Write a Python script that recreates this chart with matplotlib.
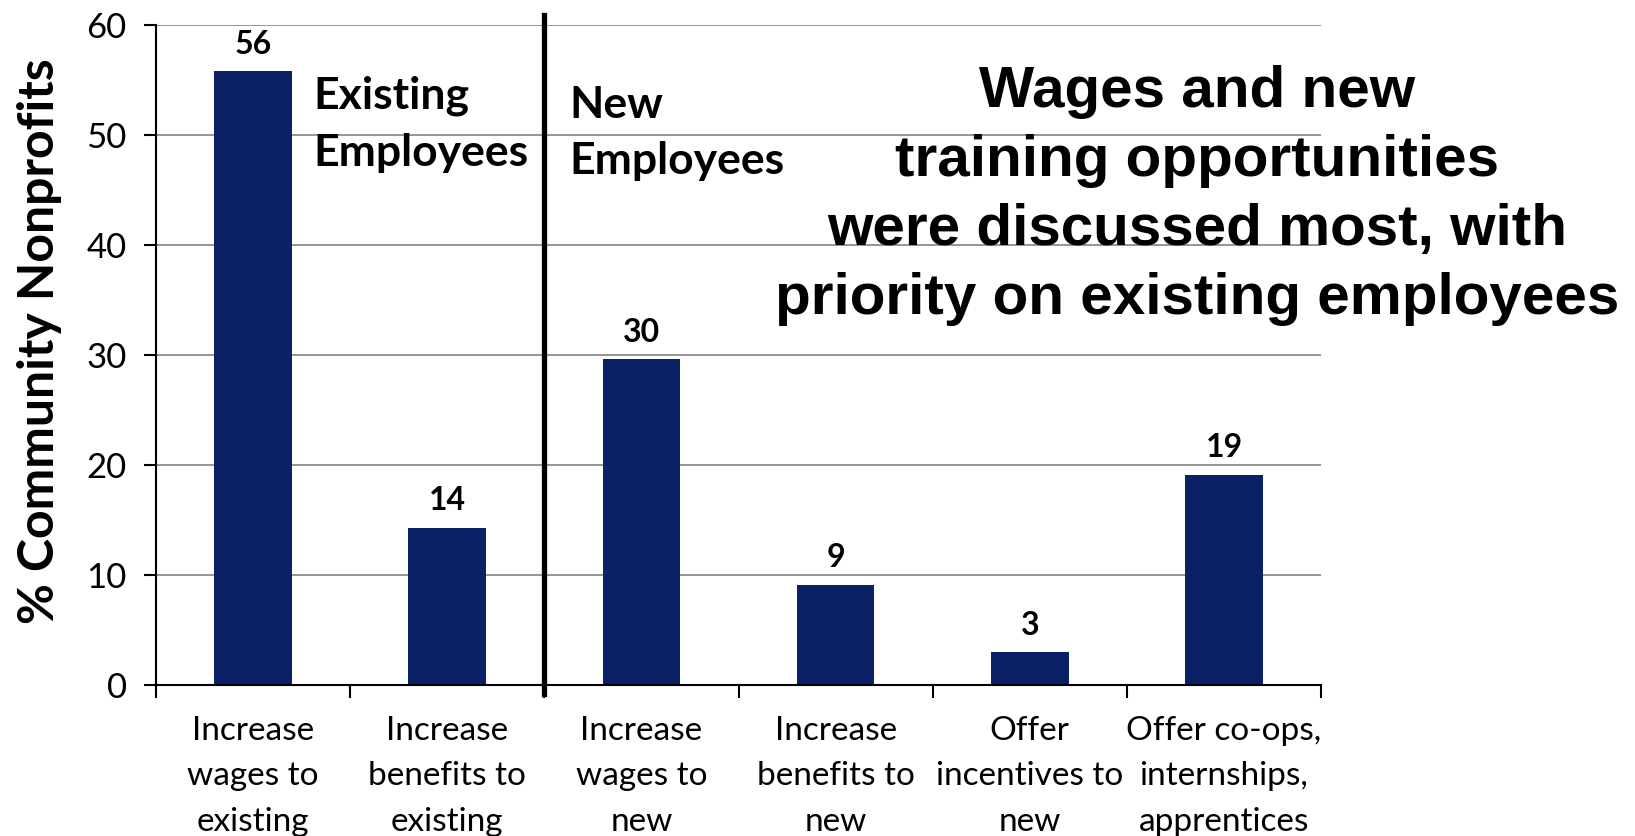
"""Bar chart: workforce strategies discussed by community nonprofits."""

import matplotlib

matplotlib.use("Agg")
import matplotlib.pyplot as plt  # noqa: E402
import numpy as np  # noqa: E402

categories = [
    "Increase\nwages to\nexisting",
    "Increase\nbenefits to\nexisting",
    "Increase\nwages to\nnew",
    "Increase\nbenefits to\nnew",
    "Offer\nincentives to\nnew",
    "Offer co-ops,\ninternships,\napprentices",
]
values = [55.8, 14.3, 29.6, 9.1, 3.0, 19.1]
value_labels = ["56", "14", "30", "9", "3", "19"]
y_ticks = [0, 10, 20, 30, 40, 50, 60]

BAR_COLOR = "#0b2166"
FONT = ["Lato", "DejaVu Sans"]
TITLE_FONT = ["Liberation Sans", "DejaVu Sans"]

plt.rcParams["font.family"] = FONT

fig = plt.figure(figsize=(16.35, 8.36), dpi=100)
ax = fig.add_axes([0.0954, 0.1806, 0.7126, 0.7894])

x = np.arange(len(categories))
bars = ax.bar(x, values, width=0.40, color=BAR_COLOR, zorder=3)
for bar, lab in zip(bars, value_labels):
    ax.annotate(lab, (bar.get_x() + bar.get_width() / 2, bar.get_height()),
                xytext=(0, 9), textcoords="offset points",
                ha="center", va="bottom", fontsize=23, fontweight="bold")

ax.set_xlim(-0.5, len(categories) - 0.5)
ax.set_ylim(0, 60)
ax.set_yticks(y_ticks)
ax.tick_params(axis="y", labelsize=25, length=9, width=1.5, pad=12)
ax.grid(True, axis="y", color="#8c8c8c", linewidth=1.3, zorder=0)

# category boundaries carry the ticks, centres carry the labels
ax.set_xticks(np.arange(-0.5, len(categories), 1.0))
ax.set_xticklabels([])
ax.set_xticks(x, minor=True)
ax.set_xticklabels(categories, minor=True, fontsize=24, linespacing=1.65)
ax.tick_params(axis="x", which="major", direction="out", length=9, width=1.5)
ax.tick_params(axis="x", which="minor", length=0, pad=22)

for s in ["top", "right"]:
    ax.spines[s].set_visible(False)
for s in ["left", "bottom"]:
    ax.spines[s].set_linewidth(1.5)
    ax.spines[s].set_zorder(4)

# divider between existing and new employees
ax.plot([1.5, 1.5], [-0.8, 60.9], color="black", lw=3.8, clip_on=False, zorder=5)

ax.text(0.31, 51.0, "Existing\nEmployees", ha="left", va="center",
        fontsize=32, fontweight="bold", linespacing=1.5)
ax.text(1.63, 50.2, "New\nEmployees", ha="left", va="center",
        fontsize=32, fontweight="bold", linespacing=1.5)

fig.text(0.024, 0.592, "% Community Nonprofits", rotation=90, ha="center",
         va="center", fontsize=36, fontweight="bold")

fig.text(0.732, 0.766,
         "Wages and new\ntraining opportunities\nwere discussed most, with\n"
         "priority on existing employees",
         ha="center", va="center", fontsize=42, fontweight="bold",
         family=TITLE_FONT, linespacing=1.36)

fig.savefig("out.png", dpi=100)
plt.close(fig)
